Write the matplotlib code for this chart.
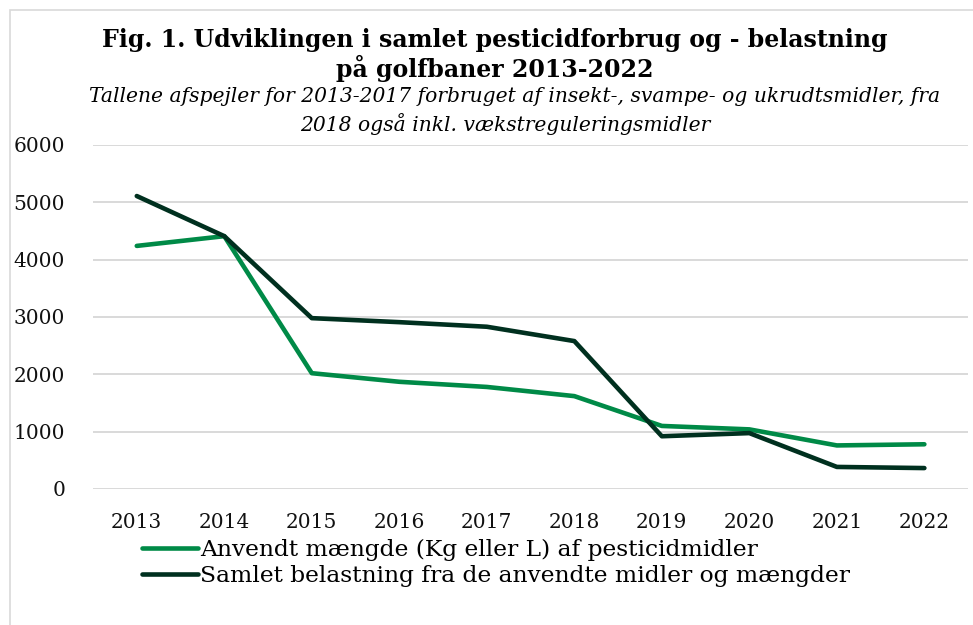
import numpy as np
import matplotlib
matplotlib.use('Agg')
import matplotlib.pyplot as plt
from matplotlib.patches import Rectangle

# data
years = [2013, 2014, 2015, 2016, 2017, 2018, 2019, 2020, 2021, 2022]
forbrug = [4240, 4410, 2020, 1870, 1780, 1620, 1100, 1040, 760, 780]
belastning = [5110, 4410, 2980, 2910, 2830, 2580, 920, 975, 385, 365]
yticks = [0, 1000, 2000, 3000, 4000, 5000, 6000]

lbl_forbrug = 'Anvendt mængde (Kg eller L) af pesticidmidler'
lbl_belast = 'Samlet belastning fra de anvendte midler og mængder'

green = '#008a47'
dark = '#00301f'
serif = 'DejaVu Serif'

plt.rcParams['font.family'] = serif

fig = plt.figure(figsize=(9.73, 6.25), dpi=100)
ax = fig.add_axes([0.0956, 0.2176, 0.8994, 0.5504])

# light frame around the chart area
fig.patches.append(Rectangle((10/973, -0.1), 1.2, 1 - 10/625 + 0.1,
                             transform=fig.transFigure, fill=False,
                             edgecolor='#d9d9d9', linewidth=1.2))

ax.plot(years, forbrug, color=green, lw=3.3, label=lbl_forbrug,
        solid_capstyle='round', solid_joinstyle='round')
ax.plot(years, belastning, color=dark, lw=3.3, label=lbl_belast,
        solid_capstyle='round', solid_joinstyle='round')

ax.set_xlim(2012.5, 2022.5)
ax.set_ylim(0, 6000)
ax.set_yticks(yticks)
ax.set_xticks(years)
ax.yaxis.grid(True, color='#d9d9d9', lw=1.4)
ax.set_axisbelow(True)
for s in ax.spines.values():
    s.set_visible(False)
ax.tick_params(axis='both', length=0, labelsize=14.5, colors='#111111')
ax.tick_params(axis='y', pad=20)
ax.tick_params(axis='x', pad=17)

fig.text(0.508, 0.936, 'Fig. 1. Udviklingen i samlet pesticidforbrug og - belastning',
         ha='center', va='center', fontsize=17, fontweight='bold')
fig.text(0.508, 0.891, 'på golfbaner 2013-2022',
         ha='center', va='center', fontsize=17, fontweight='bold')
fig.text(0.529, 0.845,
         'Tallene afspejler for 2013-2017 forbruget af insekt-, svampe- og ukrudtsmidler, fra',
         ha='center', va='center', fontsize=14.6, style='italic')
fig.text(0.519, 0.802, '2018 også inkl. vækstreguleringsmidler',
         ha='center', va='center', fontsize=14.6, style='italic')

leg = fig.legend(loc='upper left', bbox_to_anchor=(0.136, 0.153), frameon=False,
                 fontsize=16.8, handlelength=2.4, handletextpad=0.12,
                 labelspacing=0.2, borderaxespad=0)

fig.savefig('out.png', dpi=100)
